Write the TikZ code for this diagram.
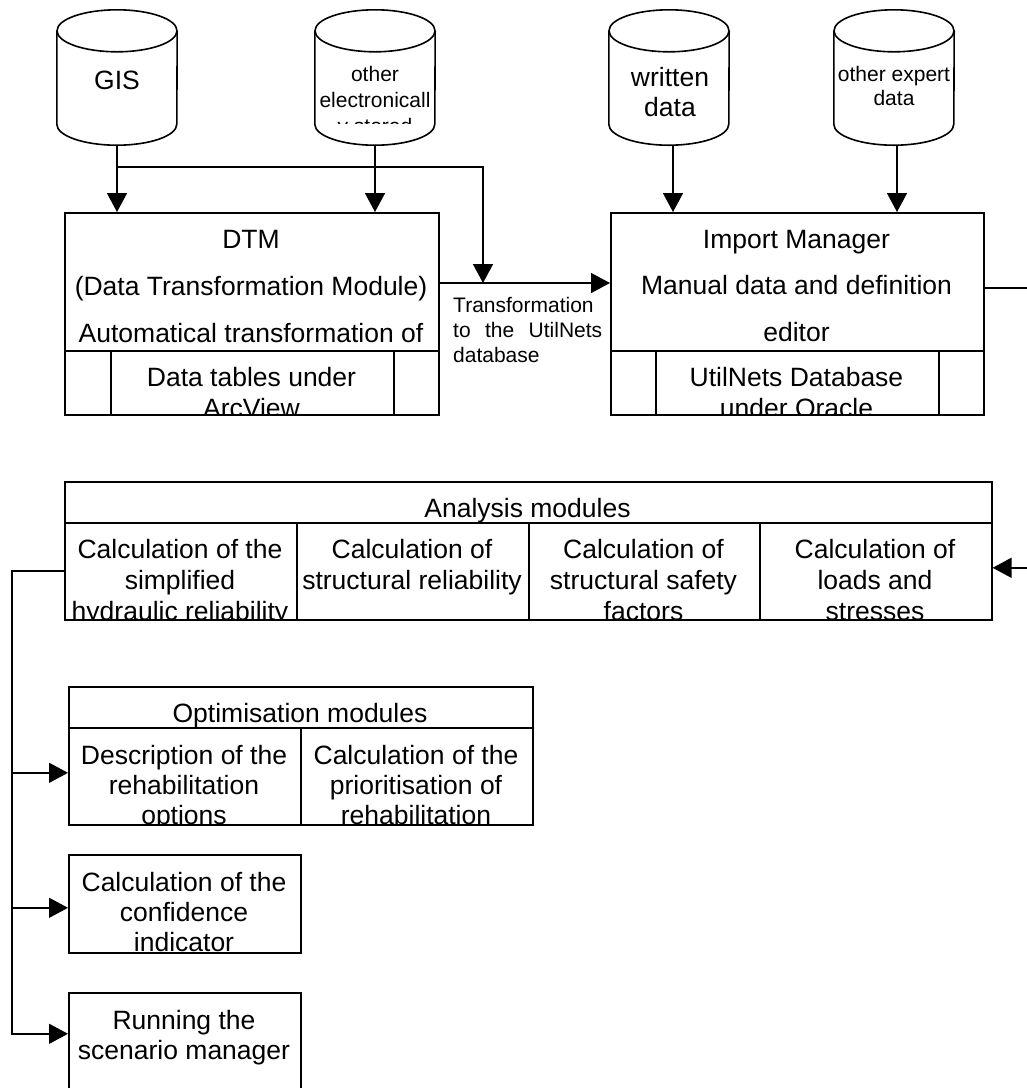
\documentclass[tikz,border=0pt]{standalone}
\usepackage{fontspec}
\setmainfont{Liberation Sans}
\usetikzlibrary{arrows.meta,calc}

\tikzset{
  cell/.style={draw, line width=1.6pt, inner sep=0pt, anchor=north west},
  drum/.style={inner sep=0pt, minimum width=120pt, minimum height=135pt},
  drumline/.style={line width=1.6pt},
  wire/.style={line width=1.5pt},
  arr/.style={line width=1.5pt, -{Triangle[length=19pt,width=20pt]}},
  big/.style={font=\fontsize{26.5}{31}\selectfont, align=center, inner sep=0pt, anchor=base},
  small/.style={font=\fontsize{21}{25}\selectfont, align=center, inner sep=0pt, anchor=base},
}

% database drum: full top ellipse, sides and front half of the bottom ellipse
\newcommand\drumoutline[1]{%
  \draw[drumline] ($(#1.north west)+(0,21)$) -- ($(#1.south west)+(0,-21)$)
    arc[start angle=180, end angle=360, x radius=60pt, y radius=21pt]
    -- ($(#1.north east)+(0,21)$);
  \draw[drumline] ($(#1.north)+(0,21)$) ellipse [x radius=60pt, y radius=21pt];
}

% multi-line labels are placed by the baseline of their last line
\begin{document}
\begin{tikzpicture}[x=1pt, y=-1pt]
\useasboundingbox (0,0) rectangle (1027,1088);
\clip (0,0) rectangle (1027,1088);

% ---------- data sources ----------
\node[drum] (gis) at (117,77.5) {};
\node[drum] (elec) at (375,77.5) {};
\node[drum] (written) at (669,77.5) {};
\node[drum] (expert) at (894,77.5) {};
\drumoutline{gis}
\drumoutline{elec}
\drumoutline{written}
\drumoutline{expert}

\node[big] (gistext) at (117,89) {GIS};
\begin{scope}
  \clip ($(elec.north west)+(2,21)$) rectangle ($(elec.south east)+(-2,-22)$);
  \node[small, font=\fontsize{21}{26}\selectfont] (electext) at (375,133) {other\\electronicall\\y stored};
\end{scope}
\node[big, font=\fontsize{26.5}{30}\selectfont] (writtentext) at (670,116) {written\\data};
\node[small, font=\fontsize{21}{24}\selectfont] (experttext) at (894,105) {other expert\\data};

% ---------- DTM ----------
\node[cell, minimum width=374pt, minimum height=138pt] (dtm) at (64,212) {};
\node[cell, minimum width=46pt, minimum height=64pt] (dtml) at (64,350) {};
\node[cell, minimum width=283pt, minimum height=64pt] (dtmdb) at (110,350) {};
\node[cell, minimum width=45pt, minimum height=64pt] (dtmr) at (393,350) {};
\begin{scope}
  \clip (dtm.south west) rectangle (dtm.north east);
  \node[big, font=\fontsize{26.5}{47}\selectfont] (dtmtext) at (251,342)
    {DTM\\(Data Transformation Module)\\Automatical transformation of};
\end{scope}
\begin{scope}
  \clip (dtmdb.south west) rectangle (dtmdb.north east);
  \node[big] (dtmdbtext) at (251.5,417) {Data tables under\\ArcView};
\end{scope}

% ---------- Import Manager ----------
\node[cell, minimum width=373pt, minimum height=138pt] (imp) at (610,212) {};
\node[cell, minimum width=45pt, minimum height=64pt] (impl) at (610,350) {};
\node[cell, minimum width=283pt, minimum height=64pt] (impdb) at (655,350) {};
\node[cell, minimum width=45pt, minimum height=64pt] (impr) at (938,350) {};
\begin{scope}
  \clip (imp.south west) rectangle (imp.north east);
  \node[big, font=\fontsize{26.5}{46.5}\selectfont] (imptext) at (796.5,341)
    {Import Manager\\Manual data and definition\\editor};
\end{scope}
\begin{scope}
  \clip (impdb.south west) rectangle (impdb.north east);
  \node[big] (impdbtext) at (796.5,417) {UtilNets Database\\under Oracle};
\end{scope}

\node[small, align=left, anchor=base west] (xferlabel) at (453,362)
  {Transformation\\\makebox[149pt][s]{to the UtilNets}\\database};

% ---------- Analysis modules ----------
\node[cell, minimum width=927pt, minimum height=41pt] (anl) at (64,481) {};
\node[cell, minimum width=232pt, minimum height=97pt] (anl1) at (64,522) {};
\node[cell, minimum width=232pt, minimum height=97pt] (anl2) at (296,522) {};
\node[cell, minimum width=231pt, minimum height=97pt] (anl3) at (528,522) {};
\node[cell, minimum width=232pt, minimum height=97pt] (anl4) at (759,522) {};
\node[big] (anltext) at (527.5,517) {Analysis modules};
\begin{scope}
  \clip (anl1.south west) rectangle (anl4.north east);
  \node[big] (anl1text) at (180,620) {Calculation of the\\simplified\\hydraulic reliability};
  \node[big] (anl2text) at (412,589) {Calculation of\\structural reliability};
  \node[big] (anl3text) at (643.5,620) {Calculation of\\structural safety\\factors};
  \node[big] (anl4text) at (875,620) {Calculation of\\loads and\\stresses};
\end{scope}

% ---------- Optimisation modules ----------
\node[cell, minimum width=464pt, minimum height=41pt] (opt) at (68,686) {};
\node[cell, minimum width=232pt, minimum height=97pt] (opt1) at (68,727) {};
\node[cell, minimum width=232pt, minimum height=97pt] (opt2) at (300,727) {};
\node[big] (opttext) at (300,722) {Optimisation modules};
\begin{scope}
  \clip (opt1.south west) rectangle (opt2.north east);
  \node[big, font=\fontsize{26.5}{30}\selectfont] (opt1text) at (184,824)
    {Description of the\\rehabilitation\\options};
  \node[big, font=\fontsize{26.5}{30}\selectfont] (opt2text) at (416,824)
    {Calculation of the\\prioritisation of\\rehabilitation};
\end{scope}

% ---------- confidence indicator and scenario manager ----------
\node[cell, minimum width=232pt, minimum height=98pt] (conf) at (68,854) {};
\begin{scope}
  \clip (conf.south west) rectangle (conf.north east);
  \node[big, font=\fontsize{26.5}{30}\selectfont] (conftext) at (184,951)
    {Calculation of the\\confidence\\indicator};
\end{scope}
\node[cell, minimum width=232pt, minimum height=108pt] (scen) at (68,992) {};
\node[big, font=\fontsize{26.5}{30}\selectfont] (scentext) at (184,1059)
  {Running the\\scenario manager};

% ---------- connectors ----------
\draw[arr] (gis.south) -- (gis.south |- dtm.north);
\draw[arr] (elec.south) -- (elec.south |- dtm.north);
\coordinate (tap) at (117,167);
\coordinate (bend) at (483,167);
\coordinate (join) at (483,283);
\draw[arr] (tap) -- (bend) -- (join);
\draw[arr] (dtm.east |- join) -- (imp.west |- join);

\coordinate (writtenout) at ($(written.south)+(4,0)$);
\coordinate (expertout) at ($(expert.south)+(3,0)$);
\draw[arr] (writtenout) -- (writtenout |- imp.north);
\draw[arr] (expertout) -- (expertout |- imp.north);

\coordinate (impout) at ($(imp.east)+(0,6)$);
\coordinate (anlin) at ($(anl4.east)+(0,-3.5)$);
\draw[arr] (impout) -- ++(46,0) |- (anlin);

\coordinate (trunk) at (12,571);
\coordinate (optin) at ($(opt1.west)+(0,-3.5)$);
\coordinate (confin) at ($(conf.west)+(0,4)$);
\coordinate (scenin) at ($(scen.west)+(0,-13)$);
\draw[arr] (anl1.west |- trunk) -- (trunk) |- (scenin);
\draw[arr] (trunk |- optin) -- (optin);
\draw[arr] (trunk |- confin) -- (confin);
\end{tikzpicture}
\end{document}
